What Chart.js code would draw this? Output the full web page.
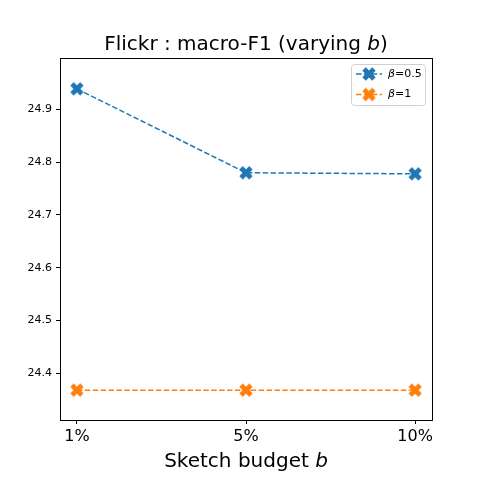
<!DOCTYPE html>
<html>
<head>
<meta charset="utf-8">
<script src="https://cdn.jsdelivr.net/npm/chart.js@4.4.0/dist/chart.umd.min.js"></script>
<style>
  html, body { margin: 0; padding: 0; background: #fff; }
  #wrap { width: 480px; height: 480px; }
</style>
</head>
<body>
<div id="wrap"><canvas id="chart" width="480" height="480"></canvas></div>
<script>
const budgets = ['1%', '5%', '10%'];
const beta05 = [24.939, 24.780, 24.778];
const beta1 = [24.368, 24.368, 24.368];
const yTicks = [24.4, 24.5, 24.6, 24.7, 24.8, 24.9];
const seriesNames = ['=0.5', '=1'];
const blue = '#1f77b4';
const orange = '#ff7f0e';
const FONT = '"DejaVu Sans", sans-serif';

// filled "X" marker like matplotlib's
function makeMarker(color) {
    const c = document.createElement('canvas');
    c.width = 16; c.height = 16;
    const g = c.getContext('2d');
    g.translate(8, 8);
    g.rotate(Math.PI / 4);
    g.fillStyle = color;
    g.fillRect(-7, -2.4, 14, 4.8);
    g.fillRect(-2.4, -7, 4.8, 14);
    return c;
}
const blueX = makeMarker(blue);
const orangeX = makeMarker(orange);

function toPoints(arr) {
    return arr.map((v, i) => ({ x: i, y: v }));
}

const extras = {
    id: 'extras',
    afterDraw(chart) {
        const ctx = chart.ctx;
        const a = chart.chartArea;
        ctx.save();
        // frame
        ctx.strokeStyle = '#000';
        ctx.lineWidth = 1;
        ctx.strokeRect(Math.round(a.left) + 0.5, Math.round(a.top) + 0.5,
            Math.round(a.right - a.left), Math.round(a.bottom - a.top));

        const cx = (a.left + a.right) / 2;
        // title
        drawMixed(ctx, [['Flickr : macro-F1 (varying ', ''], ['b', 'italic '], [')', '']], cx, 50, 20);
        // x label
        drawMixed(ctx, [['Sketch budget ', ''], ['b', 'italic ']], cx, 467, 20);

        // legend
        const lx = 351, ly = 64, lw = 74, lh = 41;
        ctx.fillStyle = 'rgba(255,255,255,0.8)';
        ctx.strokeStyle = '#d0d0d0';
        ctx.lineWidth = 1;
        ctx.beginPath();
        ctx.roundRect(lx + 0.5, ly + 0.5, lw, lh, 3);
        ctx.fill();
        ctx.stroke();
        const rows = [[blue, blueX], [orange, orangeX]];
        rows.forEach((r, i) => {
            const y = ly + 10 + i * 20.5;
            ctx.strokeStyle = r[0];
            ctx.lineWidth = 1.5;
            ctx.setLineDash([5.5, 2.4]);
            ctx.beginPath();
            ctx.moveTo(lx + 5, y);
            ctx.lineTo(lx + 31, y);
            ctx.stroke();
            ctx.setLineDash([]);
            ctx.drawImage(r[1], lx + 18 - 8, y - 8);
            ctx.fillStyle = '#000';
            ctx.textBaseline = 'middle';
            ctx.textAlign = 'left';
            ctx.font = 'italic 11px ' + FONT;
            ctx.fillText('\u03b2', lx + 37, y);
            const w = ctx.measureText('\u03b2').width;
            ctx.font = '11px ' + FONT;
            ctx.fillText(seriesNames[i], lx + 37 + w, y);
        });
        ctx.restore();
    }
};

function drawMixed(ctx, parts, cx, y, size) {
    let total = 0;
    parts.forEach(p => {
        ctx.font = p[1] + size + 'px ' + FONT;
        total += ctx.measureText(p[0]).width;
    });
    let x = cx - total / 2;
    ctx.fillStyle = '#000';
    ctx.textBaseline = 'alphabetic';
    ctx.textAlign = 'left';
    parts.forEach(p => {
        ctx.font = p[1] + size + 'px ' + FONT;
        ctx.fillText(p[0], x, y);
        x += ctx.measureText(p[0]).width;
    });
}

new Chart(document.getElementById('chart'), {
    type: 'line',
    data: {
        datasets: [{
            label: 'beta=0.5',
            data: toPoints(beta05),
            borderColor: blue,
            backgroundColor: blue,
            borderWidth: 1.5,
            borderDash: [5.5, 2.4],
            pointStyle: blueX,
            tension: 0
        }, {
            label: 'beta=1',
            data: toPoints(beta1),
            borderColor: orange,
            backgroundColor: orange,
            borderWidth: 1.5,
            borderDash: [5.5, 2.4],
            pointStyle: orangeX,
            tension: 0
        }]
    },
    options: {
        responsive: false,
        animation: false,
        layout: { padding: { top: 58, right: 48, left: 0, bottom: 0 } },
        plugins: {
            legend: { display: false },
            title: { display: false },
            tooltip: { enabled: false }
        },
        scales: {
            x: {
                type: 'linear',
                min: -0.1,
                max: 2.1,
                afterBuildTicks: axis => { axis.ticks = budgets.map((b, i) => ({ value: i })); },
                afterFit: axis => { axis.height = 60; },
                ticks: {
                    callback: v => budgets[v],
                    color: '#000',
                    font: { family: FONT, size: 16 },
                    padding: 3,
                    maxRotation: 0
                },
                grid: { drawOnChartArea: false, drawTicks: true, tickLength: 4, color: '#000' },
                border: { display: true, color: '#000' }
            },
            y: {
                min: 24.3114,
                max: 24.9975,
                afterBuildTicks: axis => { axis.ticks = yTicks.map(v => ({ value: v })); },
                afterFit: axis => { axis.width = 60; },
                ticks: {
                    callback: v => v.toFixed(1),
                    color: '#000',
                    font: { family: FONT, size: 11 },
                    padding: 4
                },
                grid: { drawOnChartArea: false, drawTicks: true, tickLength: 4, color: '#000' },
                border: { display: true, color: '#000' }
            }
        }
    },
    plugins: [extras]
});
</script>
</body>
</html>
